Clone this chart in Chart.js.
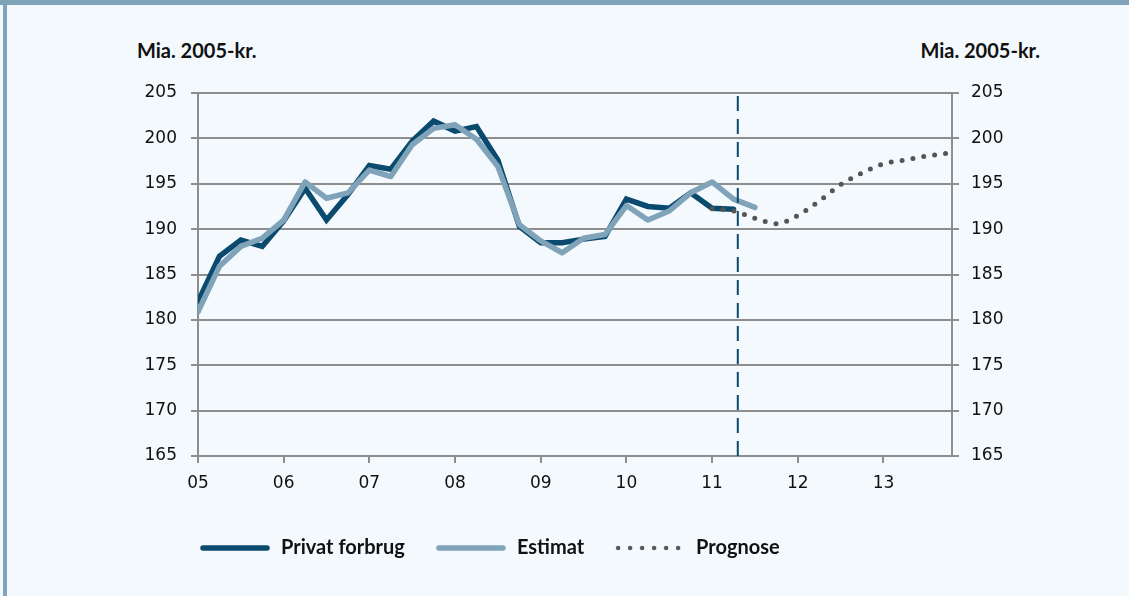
<!DOCTYPE html>
<html>
<head>
<meta charset="utf-8">
<script src="https://cdn.jsdelivr.net/npm/chart.js@4/dist/chart.umd.min.js"></script>
<style>
  html, body { margin: 0; padding: 0; background: #f4f9fd; }
  #wrap { position: relative; width: 1129px; height: 596px; overflow: hidden; }
  #band { position: absolute; left: 0; top: 0; width: 1129px; height: 5px; background: #7fa3b9; }
  #edge { position: absolute; left: 3px; top: 0; width: 4px; height: 596px; background: #7fa3b9; }
  .unit { position: absolute; top: 38px; font: bold 20px Lato, sans-serif; color: #111; }
  #unitLeft { left: 137px; }
  #unitRight { right: 89px; }
  canvas { position: absolute; left: 0; top: 0; }
</style>
</head>
<body>
<div id="wrap">
  <div id="band"></div>
  <div id="edge"></div>
  <div class="unit" id="unitLeft">Mia. 2005-kr.</div>
  <div class="unit" id="unitRight">Mia. 2005-kr.</div>
  <canvas id="forbrugChart" width="1129" height="596"></canvas>
</div>
<script>
// quarters, 2005K1 - 2013K4
var quarters = [
  '2005K1', '2005K2', '2005K3', '2005K4', '2006K1', '2006K2', '2006K3', '2006K4',
  '2007K1', '2007K2', '2007K3', '2007K4', '2008K1', '2008K2', '2008K3', '2008K4',
  '2009K1', '2009K2', '2009K3', '2009K4', '2010K1', '2010K2', '2010K3', '2010K4',
  '2011K1', '2011K2', '2011K3', '2011K4', '2012K1', '2012K2', '2012K3', '2012K4',
  '2013K1', '2013K2', '2013K3', '2013K4'
];

// Privat forbrug, from 2005K1
var privatForbrug = [182.0, 187.0, 188.8, 188.1, 190.9, 194.5, 191.0, 193.8,
  197.0, 196.6, 199.7, 201.9, 200.8, 201.3, 197.6, 190.3,
  188.5, 188.5, 188.9, 189.2, 193.3, 192.5, 192.3, 194.0,
  192.3, 192.2];

// Estimat, from 2005K1
var estimat = [180.9, 185.9, 188.1, 189.0, 191.0, 195.2, 193.4, 194.0,
  196.5, 195.8, 199.3, 201.1, 201.5, 199.9, 196.9, 190.5,
  188.7, 187.4, 189.0, 189.4, 192.6, 191.0, 192.0, 194.0,
  195.2, 193.3, 192.4];

// Prognose, from 2011K1
var prognose = [192.25, 192.0, 191.2, 190.6, 191.5, 193.1, 194.9, 196.2,
  197.2, 197.6, 198.05, 198.35];
var prognoseStart = '2011K1';

var yTicks = { min: 165, max: 205, step: 5 };
var xRange = { min: 2005, max: 2013.8 };
var forecastLine = 2011.3;

function quarterX(label) {
  var year = parseInt(label.slice(0, 4), 10);
  var q = parseInt(label.slice(5), 10);
  return year + (q - 1) / 4;
}

function toPoints(values, startLabel) {
  var start = quarters.indexOf(startLabel);
  return values.map(function (v, i) {
    return { x: quarterX(quarters[start + i]), y: v };
  });
}

// little canvases used as legend symbols (line / dotted line)
function legendSymbol(color, width, dash) {
  var c = document.createElement('canvas');
  c.width = 72;
  c.height = 8;
  var g = c.getContext('2d');
  g.strokeStyle = color;
  g.lineWidth = width;
  g.lineCap = 'round';
  g.setLineDash(dash);
  g.beginPath();
  g.moveTo(4, 4);
  g.lineTo(68, 4);
  g.stroke();
  return c;
}

var symbols = {
  'Privat forbrug': legendSymbol('#0b4a6f', 5.5, []),
  'Estimat': legendSymbol('#7fa3b9', 5.5, []),
  'Prognose': legendSymbol('#555555', 4.5, [0, 12])
};

var gridGrey = '#8e8e8e';
var tickFont = { family: 'DejaVu Sans', size: 17 };
var legendLeft = 199;

// move the legend so it starts under the left axis
var legendShift = {
  id: 'legendShift',
  afterLayout: function (chart) {
    var lg = chart.legend;
    var dx = legendLeft - (lg.left + lg.options.labels.padding);
    lg.left += dx;
    lg.right += dx;
  }
};

var ctx = document.getElementById('forbrugChart').getContext('2d');

var chart = new Chart(ctx, {
  type: 'line',
  data: {
    datasets: [
      {
        label: 'skillelinje',
        data: [{ x: forecastLine, y: yTicks.min }, { x: forecastLine, y: yTicks.max }],
        borderColor: '#0b4a6f',
        borderWidth: 2,
        borderDash: [15, 8],
        pointRadius: 0
      },
      {
        label: 'Prognose',
        data: toPoints(prognose, prognoseStart),
        borderColor: '#555555',
        borderWidth: 5,
        borderDash: [0, 11],
        borderCapStyle: 'round',
        cubicInterpolationMode: 'monotone',
        pointRadius: 0
      },
      {
        label: 'Estimat',
        data: toPoints(estimat, '2005K1'),
        borderColor: '#7fa3b9',
        borderWidth: 5.5,
        borderCapStyle: 'round',
        borderJoinStyle: 'round',
        pointRadius: 0
      },
      {
        label: 'Privat forbrug',
        data: toPoints(privatForbrug, '2005K1'),
        borderColor: '#0b4a6f',
        borderWidth: 5.5,
        borderCapStyle: 'round',
        pointRadius: 0
      }
    ]
  },
  options: {
    responsive: false,
    animation: false,
    devicePixelRatio: 1,
    layout: { padding: { left: 128, right: 117, top: 93, bottom: 28 } },
    plugins: {
      tooltip: { enabled: false },
      legend: {
        position: 'bottom',
        align: 'start',
        labels: {
          usePointStyle: true,
          pointStyleWidth: 72,
          padding: 30,
          color: '#111',
          font: { family: 'Lato', size: 20, weight: 'bold' },
          generateLabels: function (chart) {
            var items = Chart.defaults.plugins.legend.labels.generateLabels(chart);
            items.forEach(function (it) { it.pointStyle = symbols[it.text]; });
            return items;
          },
          filter: function (item) { return item.text !== 'skillelinje'; },
          sort: function (a, b) { return b.datasetIndex - a.datasetIndex; }
        }
      }
    },
    scales: {
      x: {
        type: 'linear',
        min: xRange.min,
        max: xRange.max,
        afterFit: function (scale) { scale.height = 52; },
        grid: { drawOnChartArea: false, drawTicks: true, tickLength: 7, color: gridGrey, lineWidth: 2 },
        border: { color: gridGrey, width: 2 },
        ticks: {
          stepSize: 1,
          includeBounds: false,
          padding: 10,
          color: '#111',
          font: tickFont,
          callback: function (v) { return String(v).slice(2); }
        }
      },
      y: {
        position: 'left',
        min: yTicks.min,
        max: yTicks.max,
        afterFit: function (scale) { scale.width = 70; },
        grid: { color: gridGrey, lineWidth: 2, tickLength: 7 },
        border: { color: gridGrey, width: 2 },
        ticks: { stepSize: yTicks.step, padding: 14, color: '#111', font: tickFont }
      },
      y2: {
        position: 'right',
        min: yTicks.min,
        max: yTicks.max,
        afterFit: function (scale) { scale.width = 60; },
        grid: { drawOnChartArea: false, color: gridGrey, lineWidth: 2, tickLength: 7 },
        border: { color: gridGrey, width: 2 },
        ticks: { stepSize: yTicks.step, padding: 12, color: '#111', font: tickFont }
      }
    }
  },
  plugins: [legendShift]
});
</script>
</body>
</html>
